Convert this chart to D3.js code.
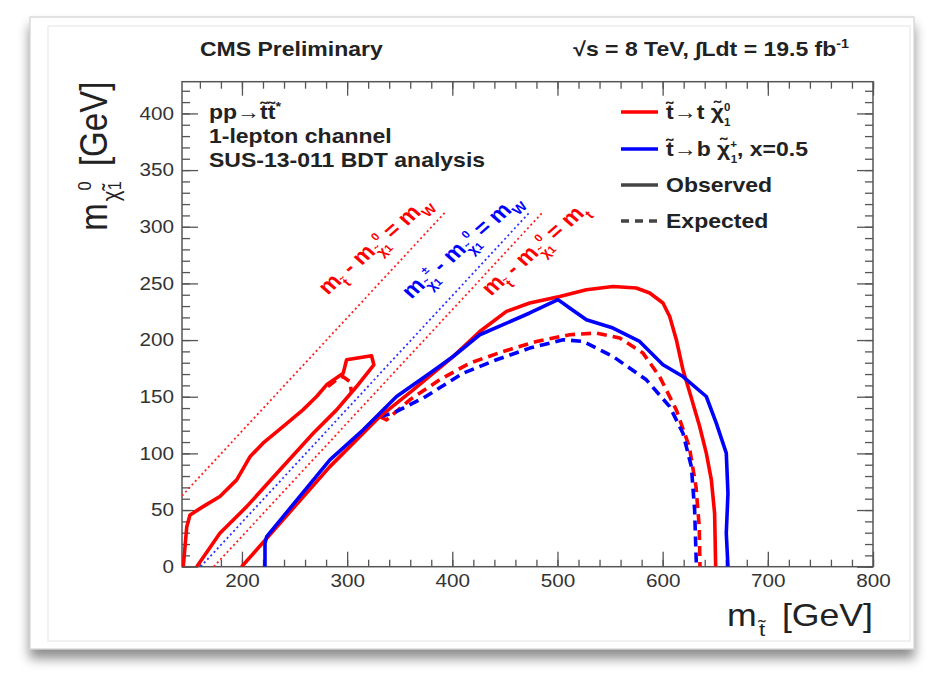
<!DOCTYPE html>
<html>
<head>
<meta charset="utf-8">
<script src="https://cdn.jsdelivr.net/npm/d3@7"></script>
<style>
  html, body { margin: 0; padding: 0; background: #ffffff; }
  svg { display: block; font-family: "Liberation Sans", Arial, Helvetica, sans-serif; }
</style>
</head>
<body>
<svg id="chart" width="938" height="676"></svg>
<script>
// ---- axis ranges and ticks ----
const xDomain = [143, 800];
const yDomain = [0, 428];
const xMajorTicks = [200, 300, 400, 500, 600, 700, 800];
const yMajorTicks = [0, 50, 100, 150, 200, 250, 300, 350, 400];
const xMinorStep = 20;
const yMinorStep = 10;

// ---- exclusion contours: [m_stop, m_LSP] in GeV ----
// t~ -> t chi0, observed (low-mass island)
const obsT2ttIsland = [[144.2,0],[147.5,35],[150.6,45.7],[163,53],[179,62],[195,76.6],[207.6,97],
  [220,109],[239,123.7],[258,138.4],[271,150.2],[280.5,160.5],[296.3,170.8],[299.5,182.6],
  [323.2,186.1],[325.4,178.2],[309,159],[290,138.4],[267.8,117.8],[236,85.4],[204.5,53],[179,29.5],[157,0]];
// t~ -> t chi0, observed (main region)
const obsT2tt = [[199.7,0],[283.6,88.3],[331.1,132.5],[362.8,156.1],[400.8,185.5],[426.1,207.6],
  [451.5,225.3],[473.6,232.7],[502.1,238.5],[527.5,244.4],[552.8,247.3],[575,245.9],[587.7,241.5],
  [600.3,232.7],[606.7,220.8],[613,200.3],[619.3,173.8],[625.9,153.2],[635.2,123.7],[641.5,100.2],
  [646.3,76.6],[649.4,47.2],[650.4,0]];
// t~ -> t chi0, expected
const expT2tt = [[331.1,132.5],[337.5,129.6],[359.6,147.3],[388.1,165],[416.6,179.7],[448.3,189.9],
  [480,198.8],[511.6,204.7],[537,206.2],[559.1,201.8],[581.3,188.5],[597.1,167.8],[613,138.4],
  [625.3,106],[631.7,70.7],[634.8,35.3],[635.5,0]];
const expT2ttIsland = [[281.7,159],[289.9,164.9],[295.9,167.8],[302.6,163.4],[304.2,153.4]];
// t~ -> b chi+, x = 0.5, observed
const obsT2bw = [[221.9,0],[221.9,20.7],[223.5,26.5],[283.6,94.3],[315.3,120.8],[347,150.2],
  [378.6,170.8],[400.8,185.5],[426.1,204.7],[448.3,213.6],[473.6,223.9],[500.5,235.7],[511.6,228.3],
  [527.5,218],[552.8,210.6],[578.1,198.8],[600.3,178.2],[619.3,167.8],[641.5,150.2],[651,126.7],
  [660.5,100.2],[662.1,64.8],[660.5,29.5],[662.1,0]];
// t~ -> b chi+, x = 0.5, expected
const expT2bw = [[331.1,132.5],[343.8,135.5],[372.3,148.8],[410.3,170.8],[442,182.6],[473.6,192.9],
  [505.3,200.3],[524.3,198.8],[552.8,185.5],[584.5,164.9],[606.7,141.3],[619.3,117.8],[627.3,88.3],
  [630.4,50.1],[632.1,0]];

// ---- kinematic boundaries: m_LSP = m_stop - offset ----
const diagOffsets = [80.4, 160.8, 173.2];
const diagColors = ["#ff2020", "#3030ff", "#ff2020"];
const diagTop = 313;

// ---- text ----
const titleLeft = "CMS Preliminary";
const infoLines = ["1-lepton channel", "SUS-13-011 BDT analysis"];
const legendObs = "Observed";
const legendExp = "Expected";

const RED = "#ff0000", BLUE = "#0000ff", INK = "#333333";
const SX = 1.15;           // horizontal text stretch
const TILDE = "\u0303";

const svg = d3.select("#chart");
const defs = svg.append("defs");
const f = defs.append("filter").attr("id", "cardShadow").attr("x", "-5%").attr("y", "-5%")
  .attr("width", "110%").attr("height", "115%");
f.append("feDropShadow").attr("dx", 0).attr("dy", 9).attr("stdDeviation", 6)
  .attr("flood-color", "#000").attr("flood-opacity", 0.45);

// card
svg.append("rect").attr("x", 30).attr("y", 17).attr("width", 884).attr("height", 632)
  .attr("fill", "#fff").attr("stroke", "#c8c8c8").attr("filter", "url(#cardShadow)");
svg.append("rect").attr("x", 48).attr("y", 26).attr("width", 862).attr("height", 615)
  .attr("fill", "none").attr("stroke", "#e4e4e4");

const L = 182, R = 873, T = 81.7, B = 566.7;
const x = d3.scaleLinear().domain(xDomain).range([L, R]);
const y = d3.scaleLinear().domain(yDomain).range([B, T]);

// rich text: parts = [kind, str]; kinds n (normal), sub, sup, ss (stacked [sup, sub])
function rich(t, parts, fs) {
  let off = 0;
  parts.forEach(([kind, str, dx]) => {
    let sp;
    if (kind === "n") {
      sp = t.append("tspan").attr("dy", -off).attr("font-size", fs).text(str); off = 0;
    } else if (kind === "sub") {
      const d = 0.32 * fs;
      sp = t.append("tspan").attr("dy", d - off).attr("font-size", 0.62 * fs).text(str); off = d;
    } else if (kind === "sup") {
      const d = -0.42 * fs;
      sp = t.append("tspan").attr("dy", d - off).attr("font-size", 0.62 * fs).text(str); off = d;
    } else if (kind === "ss") {
      const d1 = -0.42 * fs, d2 = 0.36 * fs;
      sp = t.append("tspan").attr("dy", d1 - off).attr("font-size", 0.5 * fs).text(str[0]);
      t.append("tspan").attr("dx", -0.556 * 0.5 * fs * str[0].length).attr("dy", d2 - d1)
        .attr("font-size", 0.5 * fs).text(str[1]);
      off = d2;
    }
    if (dx) sp.attr("dx", dx);
  });
  return t;
}
function label(px, py, opts = {}) {
  const g = svg.append("g").attr("transform",
    `translate(${px},${py}) scale(${SX},1)` + (opts.rotate ? ` rotate(${opts.rotate})` : ""));
  return g.append("text").attr("text-anchor", opts.anchor || "start")
    .attr("font-weight", opts.bold ? "bold" : "normal")
    .attr("fill", opts.fill || INK).attr("font-size", opts.fs || 20);
}

// ---- frame & axes ----
const plot = svg.append("g");
function styleAxis(g) {
  g.select(".domain").remove();
  g.selectAll("line").attr("stroke", "#555").attr("stroke-width", 1.3);
}
const xMinor = d3.range(Math.ceil(xDomain[0] / xMinorStep) * xMinorStep, xDomain[1] + 1, xMinorStep);
const yMinor = d3.range(0, yDomain[1] + 1, yMinorStep);

plot.append("g").attr("transform", `translate(0,${B})`)
  .call(d3.axisBottom(x).tickValues(xMinor).tickSize(-7).tickFormat("")).call(styleAxis);
plot.append("g").attr("transform", `translate(0,${B})`)
  .call(d3.axisBottom(x).tickValues(xMajorTicks).tickSize(-15).tickPadding(8).tickFormat(d3.format("d")))
  .call(styleAxis)
  .call(g => g.selectAll("text").attr("font-size", 18).attr("fill", INK)
    .attr("font-family", "Liberation Sans, Arial, sans-serif")
    .attr("transform", `scale(${SX},1)`));
plot.append("g").attr("transform", `translate(0,${T})`)
  .call(d3.axisTop(x).tickValues(xMinor).tickSize(-7).tickFormat("")).call(styleAxis);
plot.append("g").attr("transform", `translate(0,${T})`)
  .call(d3.axisTop(x).tickValues(xMajorTicks).tickSize(-14).tickFormat("")).call(styleAxis);

plot.append("g").attr("transform", `translate(${L},0)`)
  .call(d3.axisLeft(y).tickValues(yMinor).tickSize(-8).tickFormat("")).call(styleAxis);
plot.append("g").attr("transform", `translate(${L},0)`)
  .call(d3.axisLeft(y).tickValues(yMajorTicks).tickSize(-16).tickPadding(7).tickFormat(d3.format("d")))
  .call(styleAxis)
  .call(g => g.selectAll("text").attr("font-size", 18).attr("fill", INK)
    .attr("font-family", "Liberation Sans, Arial, sans-serif")
    .attr("transform", `scale(${SX},1)`));
plot.append("g").attr("transform", `translate(${R},0)`)
  .call(d3.axisRight(y).tickValues(yMinor).tickSize(-8).tickFormat("")).call(styleAxis);
plot.append("g").attr("transform", `translate(${R},0)`)
  .call(d3.axisRight(y).tickValues(yMajorTicks).tickSize(-16).tickFormat("")).call(styleAxis);

plot.append("rect").attr("x", L).attr("y", T).attr("width", R - L).attr("height", B - T)
  .attr("fill", "none").attr("stroke", "#555").attr("stroke-width", 1.5);

// ---- clip for data ----
defs.append("clipPath").attr("id", "plotClip").append("rect")
  .attr("x", L).attr("y", T).attr("width", R - L).attr("height", B - T);
const data = svg.append("g").attr("clip-path", "url(#plotClip)");

// kinematic boundaries
diagOffsets.forEach((off, i) => {
  const x0 = Math.max(xDomain[0], off);
  data.append("line")
    .attr("x1", x(x0)).attr("y1", y(x0 - off))
    .attr("x2", x(diagTop + off)).attr("y2", y(diagTop))
    .attr("stroke", diagColors[i]).attr("stroke-width", 1.8).attr("stroke-dasharray", "2,2.8");
});

const line = d3.line().x(d => x(d[0])).y(d => y(d[1]));
function curve(pts, color, dashed) {
  data.append("path").attr("d", line(pts)).attr("fill", "none")
    .attr("stroke", color).attr("stroke-width", 3.6)
    .attr("stroke-linejoin", "round")
    .attr("stroke-dasharray", dashed ? "10,6" : null);
}
curve(expT2ttIsland, RED, true);
curve(expT2tt, RED, true);
curve(expT2bw, BLUE, true);
curve(obsT2ttIsland, RED, false);
curve(obsT2tt, RED, false);
curve(obsT2bw, BLUE, false);

// ---- boundary labels ----
const chi0 = [["n", "m"], ["sub", "\u03C7" + TILDE], ["ss", ["0", "1"]]];
const diagLabels = [
  { cx: 380, cy: 250, color: RED, parts: [["n", "m"], ["sub", "t" + TILDE], ["n", " - "], ...chi0, ["n", " = m"], ["sub", "W"]] },
  { cx: 467, cy: 251, color: BLUE, parts: [["n", "m"], ["sub", "\u03C7" + TILDE], ["ss", ["\u00B1", "1"]], ["n", " - "], ...chi0, ["n", " = m"], ["sub", "W"]] },
  { cx: 540, cy: 254, color: RED, parts: [["n", "m"], ["sub", "t" + TILDE], ["n", " - "], ...chi0, ["n", " = m"], ["sub", "t"]] }
];
diagLabels.forEach(d => {
  const t = label(d.cx, d.cy, { anchor: "middle", bold: true, fill: d.color, fs: 21, rotate: -45 })
    .attr("dy", "0.35em");
  rich(t, d.parts, 21);
});

// ---- titles ----
label(200, 56, { bold: true, fs: 20, fill: "#222" }).text(titleLeft);
rich(label(849, 56, { bold: true, fs: 20, fill: "#222", anchor: "end" }),
  [["n", "\u221As = 8 TeV, \u222BLdt = 19.5 fb"], ["sup", "-1"]], 20);

// ---- process / analysis text ----
rich(label(209, 119, { bold: true, fs: 20, fill: "#222" }),
  [["n", "pp\u2192t" + TILDE + "t" + TILDE], ["sup", "*"]], 20);
infoLines.forEach((s, i) => label(209, 143 + i * 24, { bold: true, fs: 20, fill: "#222" }).text(s));

// ---- legend ----
const legend = [
  { y: 112, color: RED, dash: null, parts: [["n", "t" + TILDE + "\u2192t \u03C7" + TILDE], ["ss", ["0", "1"]]] },
  { y: 149, color: BLUE, dash: null, parts: [["n", "t" + TILDE + "\u2192b \u03C7" + TILDE], ["ss", ["+", "1"]], ["n", ", x=0.5"]] },
  { y: 185, color: "#444", dash: null, parts: [["n", legendObs]] },
  { y: 221, color: "#444", dash: "8,6", parts: [["n", legendExp]] }
];
legend.forEach(d => {
  svg.append("line").attr("x1", 621).attr("x2", 658).attr("y1", d.y).attr("y2", d.y)
    .attr("stroke", d.color).attr("stroke-width", 3.6).attr("stroke-dasharray", d.dash);
  rich(label(666, d.y + 7, { bold: true, fs: 20, fill: "#222" }), d.parts, 20);
});

// ---- axis titles ----
rich(label(873, 626, { fs: 31, fill: "#222", anchor: "end" }),
  [["n", "m"], ["sub", "t" + TILDE, 2], ["n", "  [GeV]", 6]], 31);
rich(label(107, T, { fs: 33, fill: "#222", anchor: "end", rotate: -90 }),
  [["n", "m"], ["sub", "\u03C7" + TILDE, 2], ["ss", ["0", "1"]], ["n", "  [GeV]", 6]], 33);
</script>
</body>
</html>
